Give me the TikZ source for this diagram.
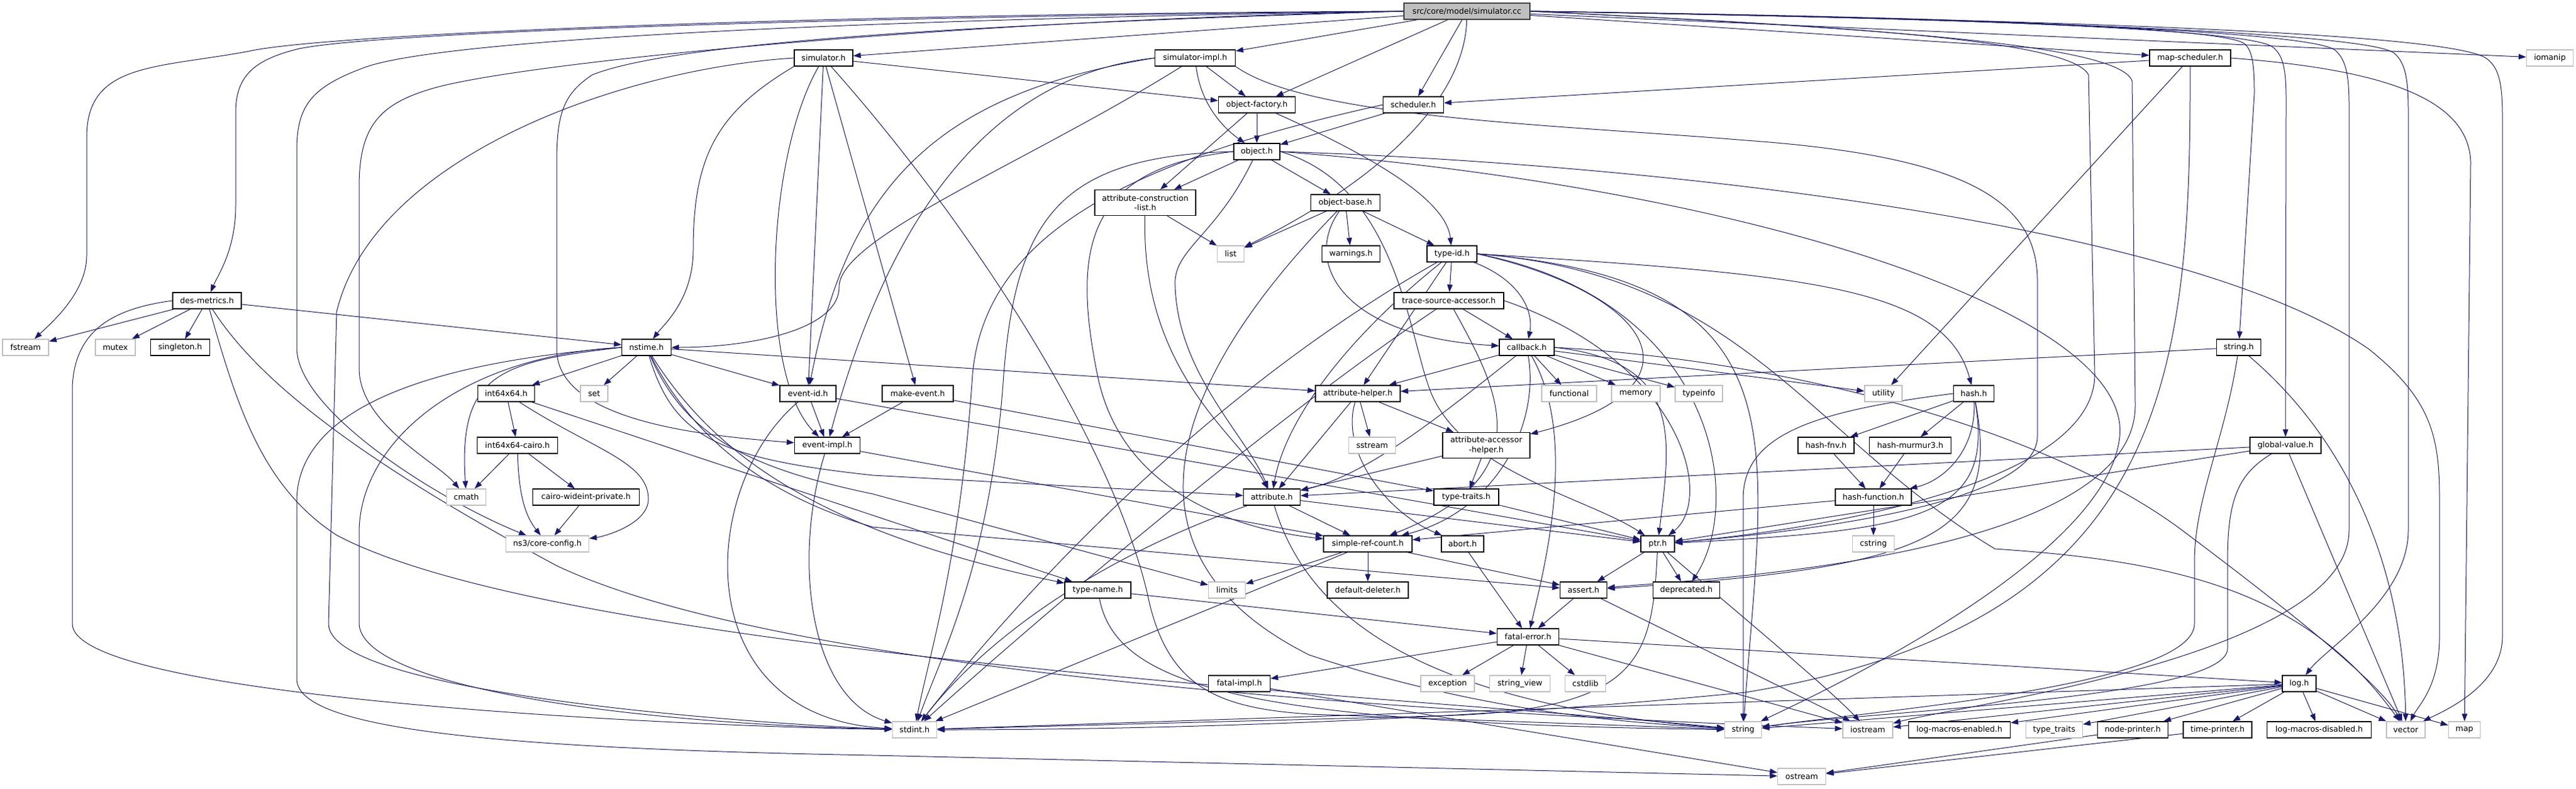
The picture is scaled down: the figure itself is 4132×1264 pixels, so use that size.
\documentclass[tikz,border=0pt]{standalone}
\usepackage{fontspec}
\setmainfont{DejaVu Sans}
\usetikzlibrary{arrows.meta}
\definecolor{edgeblue}{HTML}{191970}
\definecolor{sysgray}{HTML}{BFBFBF}
\pgfdeclarelayer{background}
\pgfsetlayers{background,main}

\begin{document}
\begin{tikzpicture}[x=0.75pt, y=-0.75pt, font=\fontsize{9.5}{11.3}\selectfont,
	hdr/.style = { rectangle, draw=black, line width=1pt, fill=white,
	inner sep=0pt, minimum height=19.5pt, minimum width=#1*0.75pt, align=center },
	syshdr/.style = { hdr=#1, draw=sysgray },
	rootfile/.style = { hdr=#1, fill=sysgray, draw=black!75 },
	inc/.style = { draw=edgeblue, line width=0.75pt,
	-{Triangle[length=9pt, width=6.5pt]} } ]

  \useasboundingbox (0,0) rectangle (4132,1264);

  \node [name=cc, rootfile=202] at (2353,18) {src/core/model/simulator.cc};
  \node [name=simh, hdr=94] at (1321,93) {simulator.h};
  \node [name=simimpl, hdr=129] at (1917,93) {simulator-impl.h};
  \node [name=mapsched, hdr=130] at (3513,93) {map-scheduler.h};
  \node [name=iomanip, syshdr=75] at (4090,93) {iomanip};
  \node [name=objfact, hdr=123] at (2016,168) {object-factory.h};
  \node [name=sched, hdr=97] at (2267,168) {scheduler.h};
  \node [name=object, hdr=74] at (2016,243) {object.h};
  \node [name=acl, hdr=162, minimum height=30.75pt] at (1837,325)
	{attribute-construction\\-list.h};
  \node [name=objbase, hdr=111] at (2158,325) {object-base.h};
  \node [name=list, syshdr=43] at (1974,407) {list};
  \node [name=warnings, hdr=93] at (2167,407) {warnings.h};
  \node [name=typeid, hdr=80] at (2329,407) {type-id.h};
  \node [name=desm, hdr=110] at (332,482) {des-metrics.h};
  \node [name=tsa, hdr=176] at (2324,482) {trace-source-accessor.h};
  \node [name=fstream, syshdr=74] at (41,557) {fstream};
  \node [name=mutex, syshdr=64] at (185,557) {mutex};
  \node [name=singleton, hdr=95] at (289,557) {singleton.h};
  \node [name=nstime, hdr=79] at (1037,557) {nstime.h};
  \node [name=callback, hdr=88] at (2449,557) {callback.h};
  \node [name=strh, hdr=71] at (3591,557) {string.h};
  \node [name=i64, hdr=91] at (812,631) {int64x64.h};
  \node [name=set, syshdr=44] at (953,631) {set};
  \node [name=eventid, hdr=90] at (1296,631) {event-id.h};
  \node [name=makeev, hdr=114] at (1472,631) {make-event.h};
  \node [name=ahelper, hdr=136] at (2178,631) {attribute-helper.h};
  \node [name=functional, syshdr=88] at (2517,631) {functional};
  \node [name=memory, syshdr=78] at (2624,631) {memory};
  \node [name=typeinfo, syshdr=76] at (2725,631) {typeinfo};
  \node [name=utility, syshdr=60] at (3021,631) {utility};
  \node [name=hash, hdr=65] at (3166,631) {hash.h};
  \node [name=cairo, hdr=129] at (830,714) {int64x64-cairo.h};
  \node [name=eventimpl, hdr=105] at (1327,714) {event-impl.h};
  \node [name=sstream, syshdr=75] at (2201,714) {sstream};
  \node [name=aah, hdr=140, minimum height=30.75pt] at (2384,714)
	{attribute-accessor\\-helper.h};
  \node [name=fnv, hdr=90] at (2929,714) {hash-fnv.h};
  \node [name=murmur, hdr=131] at (3064,714) {hash-murmur3.h};
  \node [name=gval, hdr=114] at (3666,714) {global-value.h};
  \node [name=cmath, syshdr=63] at (748,797) {cmath};
  \node [name=wideint, hdr=171] at (940,797) {cairo-wideint-private.h};
  \node [name=attr, hdr=91] at (2040,797) {attribute.h};
  \node [name=ttraits, hdr=104] at (2352,797) {type-traits.h};
  \node [name=hfunc, hdr=122] at (3005,797) {hash-function.h};
  \node [name=config, syshdr=133] at (878,872) {ns3/core-config.h};
  \node [name=srefc, hdr=142] at (2194,872) {simple-ref-count.h};
  \node [name=abort, hdr=68] at (2346,872) {abort.h};
  \node [name=ptr, hdr=54] at (2659,872) {ptr.h};
  \node [name=cstring, syshdr=67] at (3005,872) {cstring};
  \node [name=tname, hdr=106] at (1761,946) {type-name.h};
  \node [name=limits, syshdr=59] at (1968,946) {limits};
  \node [name=deleter, hdr=130] at (2194,946) {default-deleter.h};
  \node [name=assert, hdr=75] at (2540,946) {assert.h};
  \node [name=deprec, hdr=107] at (2705,946) {deprecated.h};
  \node [name=fatal, hdr=99] at (2451,1021) {fatal-error.h};
  \node [name=fimpl, hdr=99] at (1988,1096) {fatal-impl.h};
  \node [name=exception, syshdr=86] at (2322,1096) {exception};
  \node [name=strview, syshdr=97] at (2438,1096) {string\_view};
  \node [name=cstdlib, syshdr=65] at (2543,1096) {cstdlib};
  \node [name=log, hdr=54] at (3688,1096) {log.h};
  \node [name=stdint, syshdr=71] at (1467,1170) {stdint.h};
  \node [name=string, syshdr=59] at (2796,1170) {string};
  \node [name=iostream, syshdr=80] at (2996,1170) {iostream};
  \node [name=lme, hdr=163] at (3143,1170) {log-macros-enabled.h};
  \node [name=typetraits, syshdr=91] at (3295,1170) {type\_traits};
  \node [name=nodep, hdr=113] at (3421,1170) {node-printer.h};
  \node [name=timep, hdr=110] at (3557,1170) {time-printer.h};
  \node [name=lmd, hdr=167] at (3720,1170) {log-macros-disabled.h};
  \node [name=vector, syshdr=62] at (3859,1170) {vector};
  \node [name=map, syshdr=51] at (3953,1170) {map};
  \node [name=ostream, syshdr=77] at (2890,1245) {ostream};

  \begin{pgfonlayer}{background}
  \fill [white] (0,0) rectangle (4132,1264);

  \draw [inc] (cc) -- (simh);
  \draw [inc] (cc) -- (simimpl);
  \draw [inc] (cc) -- (objfact);
  \draw [inc] (cc) -- (sched);
  \draw [inc] (cc) .. controls (2350,150) and (2230,280) .. (list);
  \draw [inc] (cc) -- (mapsched);
  \draw [inc] (cc) -- (iomanip);
  \draw [inc] (cc.west) .. controls (1300,22) and (520,55) .. (400,82)
	.. controls (250,110) and (139,100) .. (139,220) -- (139,410)
	.. controls (139,470) and (80,520) .. (fstream);
  \draw [inc] (cc.west) .. controls (1400,26) and (620,50) .. (480,78)
	.. controls (410,95) and (378,120) .. (378,180) -- (378,330)
	.. controls (378,400) and (350,440) .. (desm);
  \draw [inc] (cc.west) .. controls (1450,30) and (700,60) .. (580,110)
	.. controls (500,140) and (476,170) .. (476,240) -- (476,560)
	.. controls (480,660) and (700,800) .. (config);
  \draw [inc] (cc.west) .. controls (1500,34) and (850,100) .. (700,140)
	.. controls (610,165) and (576,200) .. (576,300) -- (576,590)
	.. controls (576,680) and (700,740) .. (cmath);
  \draw [inc] (cc.west) .. controls (1700,35) and (1100,60) .. (950,120)
	.. controls (905,150) and (893,180) .. (893,260) -- (893,560)
	.. controls (893,680) and (1150,700) .. (eventimpl);
  \draw [inc] (cc.east) .. controls (3000,25) and (3560,40) .. (3600,70)
	.. controls (3612,80) and (3616,100) .. (3616,150) -- (strh);
  \draw [inc] (cc.east) .. controls (3100,28) and (3600,45) .. (3645,75)
	.. controls (3662,88) and (3667,110) .. (3667,160) -- (gval);
  \draw [inc] (cc.east) .. controls (3200,30) and (3700,50) .. (3745,80)
	.. controls (3763,95) and (3768,120) .. (3768,170) -- (3768,850)
	.. controls (3768,1050) and (3150,1130) .. (iostream);
  \draw [inc] (cc.east) .. controls (3300,32) and (3800,55) .. (3840,85)
	.. controls (3858,100) and (3863,125) .. (3863,180) -- (3863,850)
	.. controls (3863,960) and (3730,1040) .. (log);
  \draw [inc] (cc.east) .. controls (3500,35) and (3950,60) .. (3990,95)
	.. controls (4009,110) and (4014,135) .. (4014,190) -- (4014,1020)
	.. controls (4014,1100) and (3920,1140) .. (vector);
  \draw [inc] (cc.east) .. controls (2900,40) and (3320,60) .. (3350,120)
	-- (3360,600) .. controls (3360,800) and (2800,860) .. (ptr);
  \draw [inc] (cc.east) .. controls (3000,45) and (3400,70) .. (3420,130)
	-- (3425,650) .. controls (3425,900) and (2700,930) .. (assert);

  \draw [inc] (simh) -- (eventid);
  \draw [inc] (simh) .. controls (1230,250) and (1214,600) .. (eventimpl);
  \draw [inc] (simh) -- (makeev);
  \draw [inc] (simh.south west) .. controls (1150,180) and (1112,250) .. (1112,400)
	.. controls (1112,480) and (1065,520) .. (nstime);
  \draw [inc] (simh) -- (objfact);
  \draw [inc] (simh.west) .. controls (1000,110) and (600,250) .. (540,500)
	-- (527,1000) .. controls (527,1120) and (1300,1165) .. (stdint);
  \draw [inc] (simh) .. controls (1550,350) and (1780,700) .. (1840,950)
	.. controls (1870,1100) and (1950,1135) .. (2100,1145) -- (string);

  \draw [inc] (simimpl) -- (objfact);
  \draw [inc] (simimpl) .. controls (1925,160) and (1955,200) .. (object);
  \draw [inc] (simimpl.west) .. controls (1500,150) and (1360,300) .. (eventid);
  \draw [inc] (simimpl.west) .. controls (1600,120) and (1430,330) .. (eventimpl);
  \draw [inc] (simimpl) .. controls (1650,260) and (1346,380) .. (1346,460)
	.. controls (1346,530) and (1200,557) .. (nstime);
  \draw [inc] (simimpl.south east) .. controls (2100,190) and (2500,200) .. (2800,225)
	.. controls (3150,250) and (3268,320) .. (3268,450) -- (3268,700)
	.. controls (3268,820) and (2800,860) .. (ptr);

  \draw [inc] (objfact) -- (object);
  \draw [inc] (objfact) -- (acl);
  \draw [inc] (objfact) .. controls (2200,250) and (2320,320) .. (typeid);
  \draw [inc] (sched) -- (object);
  \draw [inc] (sched.west) .. controls (1800,260) and (1580,380) .. (1560,600)
	.. controls (1540,900) and (1490,1050) .. (stdint);
  \draw [inc] (mapsched) -- (sched);
  \draw [inc] (mapsched) -- (utility);
  \draw [inc] (mapsched) .. controls (3514,600) and (3480,1000) .. (2800,1110)
	.. controls (2300,1160) and (1800,1170) .. (stdint);
  \draw [inc] (mapsched.east) .. controls (3800,110) and (3960,150) .. (3963,260) -- (map);

  \draw [inc] (object) -- (acl);
  \draw [inc] (object) -- (objbase);
  \draw [inc] (object) .. controls (1950,380) and (1880,400) .. (1885,460)
	.. controls (1890,600) and (2000,700) .. (attr);
  \draw [inc] (object.west) .. controls (1740,270) and (1720,400) .. (1760,600)
	.. controls (1800,800) and (2000,850) .. (srefc);
  \draw [inc] (object.west) .. controls (1700,250) and (1630,350) .. (1610,600)
	.. controls (1590,900) and (1510,1050) .. (stdint);
  \draw [inc] (object.east) .. controls (2250,300) and (2260,560) .. (2300,640)
	.. controls (2360,760) and (2550,800) .. (ptr);
  \draw [inc] (object.east) .. controls (2800,300) and (3420,500) .. (3400,700)
	.. controls (3380,900) and (2900,1120) .. (string);
  \draw [inc] (object.east) .. controls (2600,260) and (3500,350) .. (3800,560)
	.. controls (3900,640) and (3913,700) .. (3913,800) -- (3913,1020)
	.. controls (3913,1100) and (3880,1130) .. (vector);

  \draw [inc] (acl) -- (list);
  \draw [inc] (acl) .. controls (1830,600) and (1990,700) .. (attr);
  \draw [inc] (objbase) -- (list);
  \draw [inc] (objbase) -- (warnings);
  \draw [inc] (objbase) -- (typeid);
  \draw [inc] (objbase) .. controls (2090,420) and (2150,540) .. (callback);
  \draw [inc] (objbase) .. controls (1850,640) and (1800,900) .. (2100,1050)
	.. controls (2400,1150) and (2650,1160) .. (string);

  \draw [inc] (typeid) -- (tsa);
  \draw [inc] (typeid) .. controls (2440,450) and (2460,500) .. (callback);
  \draw [inc] (typeid) -- (ahelper);
  \draw [inc] (typeid) .. controls (2150,550) and (2060,680) .. (attr);
  \draw [inc] (typeid) .. controls (1900,650) and (1600,1000) .. (stdint);
  \draw [inc] (typeid.east) .. controls (2650,470) and (2750,620) .. (aah);
  \draw [inc] (typeid.east) .. controls (2900,440) and (3120,460) .. (hash);
  \draw [inc] (typeid.east) .. controls (2750,480) and (2800,800) .. (deprec);
  \draw [inc] (typeid.east) .. controls (2900,450) and (2830,700) .. (string);
  \draw [inc] (typeid.east) .. controls (2800,440) and (2900,700) .. (3200,880)
	.. controls (3500,900) and (3700,950) .. (vector);

  \draw [inc] (tsa) -- (callback);
  \draw [inc] (tsa.east) .. controls (2700,580) and (2750,800) .. (ptr);
  \draw [inc] (tsa) .. controls (2400,620) and (2480,760) .. (srefc);
  \draw [inc] (tsa) .. controls (2000,700) and (1600,1050) .. (stdint);

  \draw [inc] (callback) -- (ahelper);
  \draw [inc] (callback) -- (functional);
  \draw [inc] (callback) -- (memory);
  \draw [inc] (callback) -- (typeinfo);
  \draw [inc] (callback) -- (utility);
  \draw [inc] (callback.east) .. controls (2900,580) and (3300,700) .. (3500,850)
	.. controls (3700,1000) and (3820,1100) .. (vector);
  \draw [inc] (callback.east) .. controls (2700,580) and (2680,700) .. (ptr);
  \draw [inc] (callback) .. controls (2330,650) and (2200,760) .. (attr);
  \draw [inc] (callback) .. controls (2470,680) and (2400,820) .. (srefc);
  \draw [inc] (callback) .. controls (2530,700) and (2480,900) .. (fatal);

  \draw [inc] (ahelper) -- (sstream);
  \draw [inc] (ahelper) -- (aah);
  \draw [inc] (ahelper) -- (attr);
  \draw [inc] (ahelper) .. controls (2150,720) and (2220,820) .. (abort);
  \draw [inc] (aah) -- (attr);
  \draw [inc] (aah) -- (ttraits);
  \draw [inc] (attr) -- (srefc);
  \draw [inc] (attr) -- (ptr);
  \draw [inc] (attr) .. controls (2100,1000) and (2300,1130) .. (string);
  \draw [inc] (attr) .. controls (1800,880) and (1600,1000) .. (stdint);
  \draw [inc] (ttraits) -- (ptr);

  \draw [inc] (srefc) -- (assert);
  \draw [inc] (srefc) -- (deleter);
  \draw [inc] (srefc) -- (limits);
  \draw [inc] (srefc) -- (stdint);
  \draw [inc] (abort) -- (fatal);
  \draw [inc] (ptr) -- (assert);
  \draw [inc] (ptr) -- (deprec);
  \draw [inc] (ptr) .. controls (2760,960) and (2930,1100) .. (iostream);
  \draw [inc] (ptr) .. controls (2650,1060) and (2630,1140) .. (2300,1148) -- (stdint);
  \draw [inc] (assert) -- (fatal);
  \draw [inc] (assert) -- (iostream);
  \draw [inc] (fatal) -- (fimpl);
  \draw [inc] (fatal) -- (exception);
  \draw [inc] (fatal) -- (strview);
  \draw [inc] (fatal) -- (cstdlib);
  \draw [inc] (fatal) -- (log);
  \draw [inc] (fatal) -- (iostream);
  \draw [inc] (fimpl) -- (ostream);
  \draw [inc] (tname) -- (fatal);
  \draw [inc] (tname) .. controls (1790,1100) and (2000,1160) .. (string);

  \draw [inc] (log) -- (lme);
  \draw [inc] (log) -- (typetraits);
  \draw [inc] (log) -- (nodep);
  \draw [inc] (log) -- (timep);
  \draw [inc] (log) -- (lmd);
  \draw [inc] (log) -- (vector);
  \draw [inc] (log) -- (map);
  \draw [inc] (log) -- (iostream);
  \draw [inc] (log) -- (string);
  \draw [inc] (log) -- (stdint);
  \draw [inc] (nodep) -- (ostream);
  \draw [inc] (timep) -- (ostream);

  \draw [inc] (eventid) -- (eventimpl);
  \draw [inc] (eventid) -- (ptr);
  \draw [inc] (eventid) .. controls (1120,780) and (1100,1150) .. (stdint);
  \draw [inc] (eventimpl) -- (srefc);
  \draw [inc] (eventimpl) .. controls (1270,900) and (1300,1120) .. (stdint);
  \draw [inc] (makeev) -- (eventimpl);
  \draw [inc] (makeev) -- (ttraits);

  \draw [inc] (nstime) -- (i64);
  \draw [inc] (nstime) -- (set);
  \draw [inc] (nstime) -- (eventid);
  \draw [inc] (nstime) -- (ahelper);
  \draw [inc] (nstime) .. controls (1080,700) and (1150,735) .. (1400,762) -- (attr);
  \draw [inc] (nstime) .. controls (1100,700) and (1200,750) .. (1400,792) -- (limits);
  \draw [inc] (nstime) .. controls (1120,720) and (1250,800) .. (1400,845) -- (assert);
  \draw [inc] (nstime) .. controls (1140,720) and (1300,850) .. (tname);
  \draw [inc] (nstime.west) .. controls (800,580) and (735,600) .. (cmath);
  \draw [inc] (nstime.west) .. controls (700,580) and (480,650) .. (476,800)
	-- (476,1090) .. controls (480,1170) and (800,1200) .. (1400,1211) -- (ostream);
  \draw [inc] (nstime.west) .. controls (750,570) and (580,700) .. (576,850)
	-- (576,1000) .. controls (580,1100) and (1000,1160) .. (stdint);

  \draw [inc] (i64) -- (cairo);
  \draw [inc] (i64) .. controls (950,720) and (1040,740) .. (1040,800)
	.. controls (1040,840) and (970,860) .. (config);
  \draw [inc] (i64) -- (tname);
  \draw [inc] (cairo) -- (wideint);
  \draw [inc] (cairo) -- (cmath);
  \draw [inc] (cairo) .. controls (832,800) and (845,830) .. (config);
  \draw [inc] (wideint) -- (config);

  \draw [inc] (hash) -- (fnv);
  \draw [inc] (hash) -- (murmur);
  \draw [inc] (hash) .. controls (3170,720) and (3120,770) .. (hfunc);
  \draw [inc] (hash.west) .. controls (2900,660) and (2796,700) .. (2796,800) -- (string);
  \draw [inc] (hash) .. controls (3210,860) and (3100,910) .. (assert);
  \draw [inc] (hash) .. controls (3200,830) and (3080,850) .. (ptr);
  \draw [inc] (fnv) -- (hfunc);
  \draw [inc] (murmur) -- (hfunc);
  \draw [inc] (hfunc) -- (cstring);
  \draw [inc] (hfunc) -- (srefc);

  \draw [inc] (gval) -- (attr);
  \draw [inc] (gval) -- (ptr);
  \draw [inc] (gval) .. controls (3590,760) and (3573,800) .. (3573,900) -- (3573,1040)
	.. controls (3573,1120) and (3000,1140) .. (string);
  \draw [inc] (gval) -- (vector);
  \draw [inc] (strh) -- (ahelper);
  \draw [inc] (strh) .. controls (3570,700) and (3520,800) .. (3520,900) -- (3520,1000)
	.. controls (3520,1100) and (3000,1140) .. (string);
  \draw [inc] (strh) .. controls (3760,700) and (3855,900) .. (vector);

  \draw [inc] (desm) -- (fstream);
  \draw [inc] (desm) -- (mutex);
  \draw [inc] (desm) -- (singleton);
  \draw [inc] (desm) -- (nstime);
  \draw [inc] (desm.west) .. controls (180,495) and (120,530) .. (116,620) -- (116,1000)
	.. controls (116,1120) and (1100,1165) .. (stdint);
  \draw [inc] (desm) .. controls (380,650) and (420,780) .. (540,858)
	.. controls (900,1050) and (2300,1120) .. (string);
  \draw [inc] (desm) .. controls (420,620) and (600,750) .. (893,907)
	.. controls (1300,1100) and (2500,1150) .. (iostream);
  \end{pgfonlayer}
\end{tikzpicture}
\end{document}
